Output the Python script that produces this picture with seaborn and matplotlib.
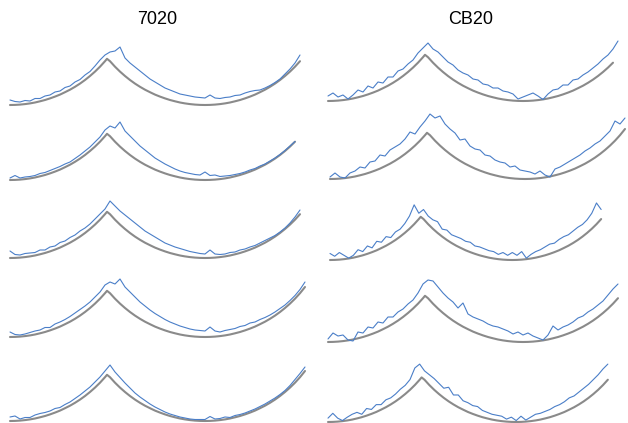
import matplotlib
matplotlib.use("Agg")
import matplotlib.pyplot as plt
import seaborn as sns

sns.set_theme(style="white")
plt.rcParams['font.family'] = ['Liberation Sans', 'DejaVu Sans']

titles = ['7020', 'CB20']

# sample positions along the profile (px from the left end of each curve)
u = [0, 5, 10, 15, 20, 25, 30, 35, 40, 45, 50, 55, 60, 65, 70, 75, 80, 85, 90, 95,
     100, 105, 110, 115, 120, 125, 130, 135, 140, 145, 150, 155, 160, 165, 170, 175,
     180, 185, 190, 195, 200, 205, 210, 215, 220, 225, 230, 235, 240, 245, 250, 255,
     260, 265, 270, 275, 280, 285, 290, 295, 300]

# nominal (gray) profile: half scallop + full scallop
profile_u = [0, 5, 10, 15, 20, 25, 30, 35, 40, 45, 50, 55, 60, 65, 70, 75, 80, 85, 90, 95, 97,
             100, 105, 110, 115, 120, 125, 130, 135, 140, 145, 150, 155, 160, 165, 170, 175,
             180, 185, 190, 195, 200, 205, 210, 215, 220, 225, 230, 235, 240, 245, 250, 255,
             260, 265, 270, 275, 280, 285, 290, 295, 300]
profile_h = [0, 0.1, 0.4, 0.9, 1.6, 2.5, 3.7, 5.0, 6.6, 8.4, 10.4, 12.8, 15.3, 18.2, 21.4, 25, 29,
             33.4, 38.3, 43.8, 46.2,
             43.8, 38.3, 33.4, 29, 25, 21.4, 18.2, 15.3, 12.8, 10.4, 8.4, 6.6, 5.0, 3.7, 2.5, 1.6,
             0.9, 0.4, 0.1, 0, 0.1, 0.4, 0.9, 1.6, 2.5, 3.7, 5.0, 6.6, 8.4, 10.4, 12.8, 15.3,
             18.2, 21.4, 25, 29, 33.4, 38.3, 43.8, 50, 57]

gray_len_7020 = [292, 287, 293, 295, 295]
gray_len_cb20 = [289, 298, 292, 291, 292]

# measured (blue) profiles
m7020_1 = [5, 3.5, 3, 4.5, 4, 6.5, 6.5, 9, 10, 13, 14, 17.5, 19, 23, 25.5, 30, 33.5, 39, 45, 50,
           53, 54, 58, 47, 42, 38, 34, 30, 26, 23, 20, 17, 15, 13, 11, 10, 9, 8, 7.5, 7,
           10, 7, 6.5, 7.5, 8, 9.5, 10, 12, 13.5, 14.5, 15, 17, 19.5, 22.5, 26, 31, 36, 42, 50]
m7020_2 = [2, 4.5, 2, 3, 3.5, 4.5, 6.5, 7.5, 9.5, 11.5, 13.5, 16, 18, 21.5, 25, 29, 33, 38, 43, 50,
           54, 52, 58, 49, 44, 39, 34, 30, 26, 22, 19, 16, 13.5, 11, 9, 7.5, 6.5, 5.5, 5, 8,
           4.5, 5, 3.5, 4, 4.5, 5.5, 6.5, 8, 10, 11.5, 14, 16, 19, 22, 25.5, 29.5, 34, 38.5]
m7020_3 = [7, 3.5, 3, 4.5, 5, 5.5, 8, 8, 11, 12, 15.5, 17, 20.5, 23, 27, 30, 34, 39, 44, 49,
           57, 52, 47, 43, 39, 35, 31, 27, 24, 21, 18, 15, 13, 11, 9.5, 8, 6.5, 5.5, 4.5, 4,
           8, 4, 3.5, 4, 5.5, 6, 8, 9, 11, 12.5, 15, 17.5, 20, 22.5, 26, 30, 35, 41, 48]
m7020_4 = [5, 2.5, 2, 3, 4.5, 6, 7, 9.5, 9.5, 13, 15, 17.5, 20.5, 24, 27.5, 31, 35, 40, 45, 52,
           55, 53, 58, 50, 45, 40, 35, 31, 27, 23.5, 20.5, 17.5, 15, 13, 11, 9.5, 8, 7, 6.5, 6,
           10, 6, 5, 6.5, 7.5, 8.5, 10.5, 11.5, 14, 15, 17.5, 19.5, 22, 25, 28.5, 32, 36.5, 41.5,
           47.5, 55]
m7020_5 = [4, 5, 2, 3.5, 3.5, 6, 7.5, 8.5, 10, 12.5, 13.5, 16.5, 19, 22.5, 26, 30, 34, 39, 44, 50,
           56, 49, 43.5, 38, 33, 28, 24, 20.5, 17, 14, 11.5, 9, 7, 5.5, 4, 3, 2, 1.5, 1.5, 1.5,
           4.5, 2, 2.5, 4, 3.5, 5.5, 6.5, 8, 10, 12, 14.5, 17, 20, 23, 26.5, 30.5, 35.5, 41.5,
           47.5, 54]

mcb20_1 = [5, 8, 4, 6, 2, 6, 11, 9, 15, 13, 19, 18, 24, 24, 30, 32, 37, 41, 48, 53,
           58, 52, 49, 44, 39, 36, 31, 28, 26, 22, 21, 17, 16, 13, 13, 10, 9, 7, 2, 4,
           6, 8, 5, 1.5, 7, 11, 12, 16, 16, 21, 22, 26, 29, 33, 37, 42, 46, 52, 60]
mcb20_2 = [2, 6, 2, 1, 6, 8, 12, 11, 17, 18, 24, 23, 29, 32, 35, 40, 47, 45, 52, 58,
           65, 61, 63, 55, 50, 46, 39, 40, 33, 30, 29, 24, 23, 19, 17, 16, 12, 13, 9, 8,
           7, 5, 8, 4, 2, 10, 12, 15, 18, 21, 24, 28, 31, 35, 38, 43, 48, 58, 55, 61]
mcb20_3 = [7, 4, 8, 5, 2, 5, 11, 9, 15, 13, 20, 19, 25, 24, 30, 33, 39, 47, 59, 50,
           54, 47, 43, 41, 33, 32, 27, 25, 23, 20, 19, 15, 14, 12, 10, 9, 6, 8, 5, 8,
           5, 9, 2, 6, 9, 11, 14, 17, 18, 22, 25, 27, 31, 35, 38, 43, 50, 61, 54]
mcb20_4 = [3, 9, 6, 7, 2, 1, 10, 9, 15, 14, 20, 19, 25, 25, 30, 33, 38, 42, 49, 58,
           62, 61, 55, 49, 44, 40, 34, 39, 28, 25, 23, 21, 18, 16, 15, 13, 11, 8, 10, 7,
           9, 6, 4, 2, 7, 16, 12, 15, 17, 20, 24, 26, 30, 33, 37, 41, 47, 53, 58]
mcb20_5 = [4, 9, 4, 1.5, 5, 8, 10, 8, 14, 13, 18, 18, 23, 25, 29, 34, 38, 44, 56, 60,
           53, 49, 45, 40, 35, 36, 28, 28, 22, 20, 17, 16, 12, 10, 8, 7, 6, 3, 5, 1.5,
           6, 2, 5, 8, 9, 11, 13, 16, 18, 21, 25, 27, 31, 35, 39, 44, 49, 55, 60]

measured = [[m7020_1, m7020_2, m7020_3, m7020_4, m7020_5],
            [mcb20_1, mcb20_2, mcb20_3, mcb20_4, mcb20_5]]
gray_len = [gray_len_7020, gray_len_cb20]

# layout (image pixels)
W, H = 628, 423
col_x0 = [0, 314]
left_px = [[10, 10, 10, 10, 10], [328, 330, 330, 328, 328]]
bottom_px = [[105, 180, 258, 337, 421], [101, 179, 260, 342, 422]]
scale = [[1, 1, 1, 1, 1], [1, 1, 0.935, 1, 0.965]]

fig = plt.figure(figsize=(W / 100, H / 100), dpi=100)

for c in range(2):
    for r in range(5):
        s = scale[c][r]
        b = bottom_px[c][r]
        ax = fig.add_axes([col_x0[c] / W, (H - (b + 6)) / H, 314 / W, 78 / H])
        ax.set_xlim((col_x0[c] - left_px[c][r]) / s, (col_x0[c] + 314 - left_px[c][r]) / s)
        ax.set_ylim(-6 / s, 72 / s)
        ax.axis('off')

        pu = [x for x in profile_u if x <= gray_len[c][r]]
        ph = profile_h[:len(pu)]
        sns.lineplot(x=pu, y=ph, ax=ax, color='#8a8a8a', lw=1.5,
                     sort=False, estimator=None, clip_on=False)
        m = measured[c][r]
        sns.lineplot(x=u[:len(m)], y=m, ax=ax, color='#4a7ec8', lw=0.8,
                     sort=False, estimator=None, clip_on=False)

    fig.text((col_x0[c] + 157) / W, 1 - 20 / H, titles[c], ha='center', va='center',
             fontsize=13, color='black')

plt.savefig('out.png', dpi=100)
